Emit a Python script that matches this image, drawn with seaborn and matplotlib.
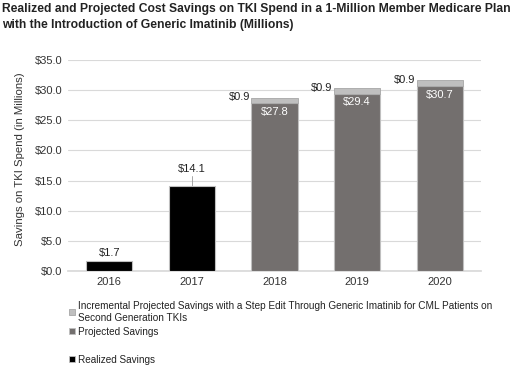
import matplotlib
matplotlib.use("Agg")
import matplotlib.pyplot as plt
import seaborn as sns
import pandas as pd
from matplotlib.patches import Patch

years = ["2016", "2017", "2018", "2019", "2020"]
realized_years = ["2016", "2017"]
realized = [1.7, 14.1]
projected_years = ["2018", "2019", "2020"]
projected = [27.8, 29.4, 30.7]
incremental = [0.9, 0.9, 0.9]
yticks = [0, 5, 10, 15, 20, 25, 30, 35]

title = ("Realized and Projected Cost Savings on TKI Spend in a 1-Million Member Medicare Plan\n"
         "with the Introduction of Generic Imatinib (Millions)")
ylabel = "Savings on TKI Spend (in Millions)"
leg_labels = ["Incremental Projected Savings with a Step Edit Through Generic Imatinib for CML Patients on\nSecond Generation TKIs",
              "Projected Savings", "Realized Savings"]

sns.set_theme(style="white")
plt.rcParams["font.family"] = ["Liberation Sans", "DejaVu Sans"]

c_real = "#000000"
c_proj = "#736f6e"
c_inc = "#bfbfbf"
edge = "#bfbfbf"

fig = plt.figure(figsize=(5.2, 3.65), dpi=100)
ax = fig.add_axes([68/520, 1-271/365, 413/520, 211/365])

df_r = pd.DataFrame({"year": realized_years, "v": realized})
df_p = pd.DataFrame({"year": projected_years, "v": projected, "inc": incremental})

sns.barplot(data=df_r, x="year", y="v", order=years, color=c_real, width=0.56,
            edgecolor=edge, linewidth=0.8, saturation=1, ax=ax, zorder=3)
sns.barplot(data=df_p, x="year", y="v", order=years, color=c_proj, width=0.56,
            edgecolor=edge, linewidth=0.8, saturation=1, ax=ax, zorder=3)
sns.barplot(data=df_p, x="year", y="inc", order=years, color=c_inc, width=0.56,
            edgecolor="#a6a6a6", linewidth=0.6, saturation=1, ax=ax, zorder=3,
            bottom=df_p["v"].tolist())

ax.set_xlim(-0.5, 4.5)
ax.set_ylim(0, 35)
ax.set_yticks(yticks)
ax.set_yticklabels([f"${t:.1f}" for t in yticks])
ax.yaxis.grid(True, color="#d9d9d9", linewidth=0.8, zorder=0)
ax.set_axisbelow(True)
for s in ["top", "right", "left"]:
    ax.spines[s].set_visible(False)
ax.spines["bottom"].set_color("#d9d9d9")
ax.tick_params(axis="both", length=0, labelsize=8, colors="#333333", pad=4)
ax.set_xlabel("")
ax.set_ylabel(ylabel, fontsize=8.2, color="#333333")
ax.yaxis.set_label_coords(-0.103, 0.53)

# value labels
offsets = [0.5, 2.0]
for i, (v, off) in enumerate(zip(realized, offsets)):
    ax.text(i, v + off, f"${v:.1f}", ha="center", va="bottom", fontsize=8, color="#222222")
ax.plot([1, 1], [realized[1], realized[1] + 1.6], color="#999999", lw=0.6)
for j, (p, inc) in enumerate(zip(projected, incremental)):
    x = years.index(projected_years[j])
    ax.text(x, p - 0.6, f"${p:.1f}", ha="center", va="top", fontsize=8, color="white")
    ax.text(x - 0.3, p + inc + 0.1, f"${inc:.1f}", ha="right", va="center", fontsize=8, color="#222222")

fig.text(2/520, 1-3/365, title, ha="left", va="top", fontsize=8.7, fontweight="bold",
         color="#222222", linespacing=1.4)

handles = [Patch(facecolor=c_inc, edgecolor="#a6a6a6", lw=0.6),
           Patch(facecolor=c_proj, edgecolor=edge, lw=0.6),
           Patch(facecolor="none", edgecolor="none"),
           Patch(facecolor=c_real, edgecolor=edge, lw=0.6)]
labels = [leg_labels[0], leg_labels[1], "", leg_labels[2]]
fig.legend(handles, labels, loc="upper left", bbox_to_anchor=(69/520, 1-301/365),
           frameon=False, fontsize=7.2, handlelength=0.6, handleheight=0.6,
           handletextpad=0.3, labelspacing=0.4, borderaxespad=0, borderpad=0,
           labelcolor="#222222")

fig.savefig("out.png", dpi=100)
